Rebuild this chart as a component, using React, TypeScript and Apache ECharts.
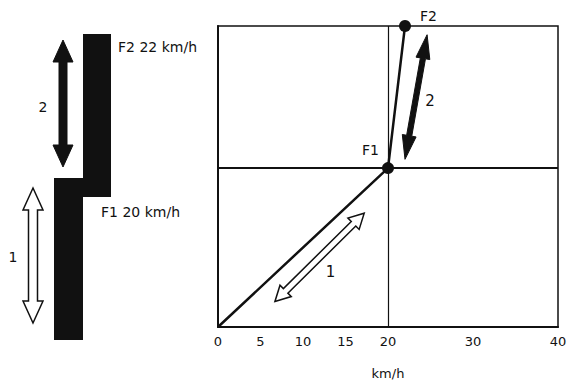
import React, { useEffect, useRef } from 'react';
import * as echarts from 'echarts';

// ---- data ----
const xTickLabels = [0, 5, 10, 15, 20, 30, 40];
const xMin = 0;
const xMax = 40;
const yMin = 0;
const yMax = 100;
const pathPoints: [number, number][] = [[0, 0], [20, 52.8], [22, 100]];
const pointNames = ['F1', 'F2'];
const pointValues: [number, number][] = [[20, 52.8], [22, 100]];
const refLineX = 20;
const refLineY = 52.8;
const arrowNames = ['2', '1'];
const arrowFrom: [number, number][] = [[24.6, 97.1], [6.7, 8.5]];
const arrowTo: [number, number][] = [[22.0, 55.7], [17.2, 37.8]];
const arrowFilled = [true, false];
const stairLabels = ['F2 22 km/h', 'F1 20 km/h'];
const sideArrowNames = ['2', '1'];

const FONT = '"DejaVu Sans", "Liberation Sans", Arial, sans-serif';
const INK = '#111';

function doubleArrow(p1: number[], p2: number[], w: number, hw: number, hl: number): number[][] {
  const dx = p2[0] - p1[0];
  const dy = p2[1] - p1[1];
  const len = Math.sqrt(dx * dx + dy * dy) || 1;
  const ux = dx / len, uy = dy / len;
  const nx = -uy, ny = ux;
  const a = [p1[0] + ux * hl, p1[1] + uy * hl];
  const b = [p2[0] - ux * hl, p2[1] - uy * hl];
  return [
    [p1[0], p1[1]],
    [a[0] + nx * hw, a[1] + ny * hw],
    [a[0] + nx * w, a[1] + ny * w],
    [b[0] + nx * w, b[1] + ny * w],
    [b[0] + nx * hw, b[1] + ny * hw],
    [p2[0], p2[1]],
    [b[0] - nx * hw, b[1] - ny * hw],
    [b[0] - nx * w, b[1] - ny * w],
    [a[0] - nx * w, a[1] - ny * w],
    [a[0] - nx * hw, a[1] - ny * hw],
  ];
}

export default function App() {
  const ref = useRef<HTMLDivElement>(null);
  useEffect(() => {
    document.body.style.margin = '0';
    if (!ref.current) return;
    const chart = echarts.init(ref.current, null, { renderer: 'svg' });

    const arrowData = arrowNames.map((n, i) => ({
      name: n,
      value: [arrowFrom[i][0], arrowFrom[i][1], arrowTo[i][0], arrowTo[i][1], arrowFilled[i] ? 1 : 0],
    }));

    const option: any = {
      animation: false,
      backgroundColor: '#fff',
      textStyle: { fontFamily: FONT, color: INK },
      grid: {
        left: 218, right: 13, top: 26, bottom: 52,
        show: true, borderColor: INK, borderWidth: 1.5, backgroundColor: 'transparent',
      },
      xAxis: {
        type: 'value', min: xMin, max: xMax, interval: 5,
        axisLine: { show: true, onZero: false, lineStyle: { color: INK, width: 2 } },
        axisTick: { show: false },
        splitLine: { show: false },
        axisLabel: {
          formatter: (v: number) => (xTickLabels.includes(v) ? String(v) : ''),
          color: INK, fontSize: 13, margin: 8, fontFamily: FONT,
        },
        name: 'km/h', nameLocation: 'middle', nameGap: 40,
        nameTextStyle: { color: INK, fontSize: 13, fontFamily: FONT },
      },
      yAxis: {
        type: 'value', min: yMin, max: yMax,
        axisLine: { show: true, onZero: false, lineStyle: { color: INK, width: 2 } },
        axisTick: { show: false },
        axisLabel: { show: false },
        splitLine: { show: false },
      },
      series: [
        {
          type: 'line',
          data: pathPoints,
          symbol: 'none',
          lineStyle: { color: INK, width: 2.5 },
          z: 3,
          markLine: {
            silent: true,
            symbol: 'none',
            label: { show: false },
            lineStyle: { color: INK, type: 'solid' },
            data: [
              { xAxis: refLineX, lineStyle: { width: 1.2, color: INK, type: 'solid' } },
              { yAxis: refLineY, lineStyle: { width: 2, color: INK, type: 'solid' } },
            ],
          },
        },
        {
          type: 'scatter',
          symbolSize: 12,
          itemStyle: { color: INK, opacity: 1 },
          z: 4,
          label: {
            show: true,
            formatter: '{b}',
            color: INK,
            fontSize: 14,
            fontFamily: FONT,
            opacity: 1,
          },
          data: pointNames.map((n, i) => ({
            name: n,
            value: pointValues[i],
            label: { position: i === 0 ? [-20, -19] : [21, -11] },
          })),
        },
        {
          type: 'custom',
          encode: { x: [0, 2], y: [1, 3] },
          z: 5,
          renderItem: (params: any, api: any) => {
            const p1 = api.coord([api.value(0), api.value(1)]);
            const p2 = api.coord([api.value(2), api.value(3)]);
            const filled = api.value(4) === 1;
            const pts = filled ? doubleArrow(p1, p2, 2.6, 7, 24) : doubleArrow(p1, p2, 3.2, 8, 15);
            const mx = (p1[0] + p2[0]) / 2;
            const my = (p1[1] + p2[1]) / 2;
            const name = arrowNames[params.dataIndex];
            const lx = filled ? mx + 14 : mx + 11;
            const ly = filled ? my + 4 : my + 15;
            return {
              type: 'group',
              children: [
                {
                  type: 'polygon',
                  shape: { points: pts },
                  style: filled
                    ? { fill: INK, stroke: INK, lineWidth: 1 }
                    : { fill: '#fff', stroke: INK, lineWidth: 1.5 },
                },
                {
                  type: 'text',
                  x: lx, y: ly,
                  style: {
                    text: name, fill: INK, fontSize: 15, fontFamily: FONT,
                    align: 'center', verticalAlign: 'middle',
                  },
                },
              ],
            };
          },
          data: arrowData,
        },
      ],
      graphic: [
        {
          type: 'polygon',
          shape: {
            points: [[83, 34], [111, 34], [111, 197], [83, 197], [83, 340], [54, 340], [54, 178], [83, 178]],
          },
          style: { fill: INK },
        },
        {
          type: 'polygon',
          shape: { points: doubleArrow([63, 40], [63, 167], 4, 10, 22) },
          style: { fill: INK, stroke: INK, lineWidth: 1 },
        },
        {
          type: 'polygon',
          shape: { points: doubleArrow([33, 188], [33, 323], 4.5, 10, 22) },
          style: { fill: '#fff', stroke: INK, lineWidth: 1.5 },
        },
        {
          type: 'text', x: 43, y: 107,
          style: { text: sideArrowNames[0], fill: INK, fontSize: 14, fontFamily: FONT, align: 'center', verticalAlign: 'middle' },
        },
        {
          type: 'text', x: 13, y: 257,
          style: { text: sideArrowNames[1], fill: INK, fontSize: 14, fontFamily: FONT, align: 'center', verticalAlign: 'middle' },
        },
        {
          type: 'text', x: 118, y: 47,
          style: { text: stairLabels[0], fill: INK, fontSize: 14, fontFamily: FONT, align: 'left', verticalAlign: 'middle' },
        },
        {
          type: 'text', x: 101, y: 212,
          style: { text: stairLabels[1], fill: INK, fontSize: 14, fontFamily: FONT, align: 'left', verticalAlign: 'middle' },
        },
      ],
    };
    chart.setOption(option);
    return () => chart.dispose();
  }, []);
  return <div ref={ref} style={{ width: 571, height: 385 }} />;
}
